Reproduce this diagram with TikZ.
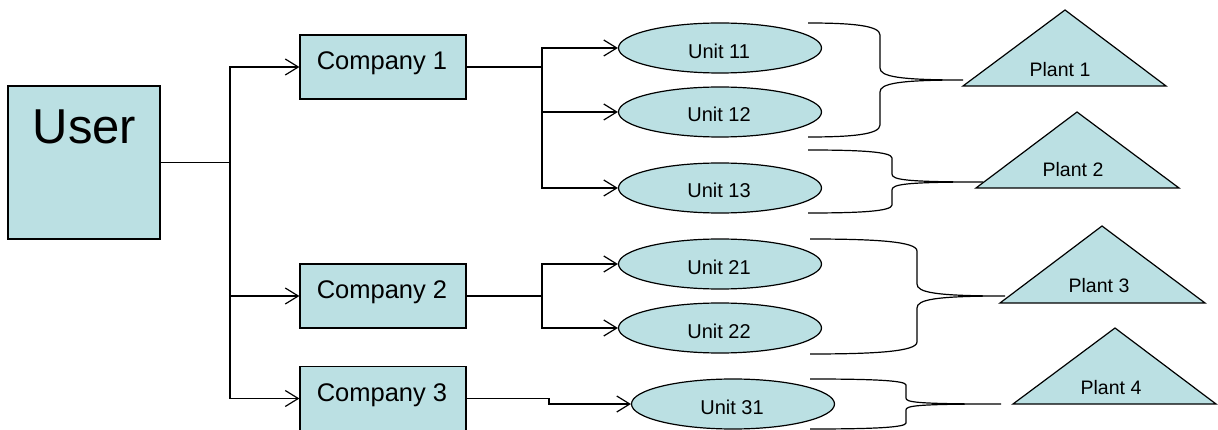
\documentclass[tikz,border=0pt]{standalone}
\usepackage{fontspec}
\setmainfont{Liberation Sans}
\usetikzlibrary{arrows.meta,shapes.geometric}
\definecolor{boxfill}{RGB}{187,224,227}

% curly brace: #1 arm start x, #2 spine x, #3 top y, #4 tip y, #5 bottom y, #6 tip x, #7 corner size
\newcommand\plantbrace[7]{%
  \draw (#1,#3) .. controls ({#1+0.6*(#2-#1)},#3) and (#2,{#3+0.2*#7}) .. (#2,{#3+#7})
    -- (#2,{#4-#7}) .. controls (#2,{#4-0.3*#7}) and ({#2+1.5*#7},#4) .. (#6,#4)
    .. controls ({#2+1.5*#7},#4) and (#2,{#4+0.3*#7}) .. (#2,{#4+#7})
    -- (#2,{#5-#7}) .. controls (#2,{#5-0.2*#7}) and ({#1+0.6*(#2-#1)},#5) .. (#1,#5);}

\begin{document}
\begin{tikzpicture}[x=1pt,y=-1pt,line width=1.2pt,
  boxshape/.style={draw,fill=boxfill,rectangle,inner sep=0pt},
  unitshape/.style={draw,fill=boxfill,ellipse,inner sep=0pt,minimum width=203pt,minimum height=50pt},
  plantshape/.style={draw,fill=boxfill,line join=miter},
  usertext/.style={font=\fontsize{49}{58}\selectfont,anchor=base,inner sep=0pt},
  comptext/.style={font=\fontsize{25.5}{30}\selectfont,anchor=base,inner sep=0pt},
  unittext/.style={font=\fontsize{20}{24}\selectfont,anchor=base,inner sep=0pt},
  planttext/.style={font=\fontsize{19.5}{23}\selectfont,anchor=base,inner sep=0pt},
  flow/.style={-{Straight Barb[length=13pt,width=16pt]}},
]
\useasboundingbox (0,0) rectangle (1218,430);

% user
\node[boxshape,minimum width=152pt,minimum height=153pt] (user) at (84,162.5) {};
\node[usertext] (usert) at (84.5,144) {User};

% companies
\node[boxshape,minimum width=166pt,minimum height=64pt] (c1) at (383,67) {};
\node[comptext] (c1t) at (382,69.5) {Company 1};
\node[boxshape,minimum width=166pt,minimum height=64pt] (c2) at (383,296) {};
\node[comptext] (c2t) at (382,298.5) {Company 2};
\node[boxshape,minimum width=166pt,minimum height=64pt] (c3) at (383,398.5) {};
\node[comptext] (c3t) at (382,401) {Company 3};

% units
\node[unitshape] (u11) at (720,48) {};
\node[unittext] (u11t) at (719,58.3) {Unit 11};
\node[unitshape] (u12) at (720,112) {};
\node[unittext] (u12t) at (719,121.7) {Unit 12};
\node[unitshape] (u13) at (720,188) {};
\node[unittext] (u13t) at (719,198) {Unit 13};
\node[unitshape] (u21) at (720,264) {};
\node[unittext] (u21t) at (719,275) {Unit 21};
\node[unitshape] (u22) at (720,328) {};
\node[unittext] (u22t) at (719,338) {Unit 22};
\node[unitshape] (u31) at (733,404) {};
\node[unittext] (u31t) at (732,414) {Unit 31};

% plants
\draw[plantshape] (963,86) -- (1065,10) -- (1166,86) -- cycle;
\node[planttext] (p1t) at (1060,77) {Plant 1};
\draw[plantshape] (976,188) -- (1077,112) -- (1179,188) -- cycle;
\node[planttext] (p2t) at (1073,177) {Plant 2};
\draw[plantshape] (1000,303) -- (1102,226) -- (1205,303) -- cycle;
\node[planttext] (p3t) at (1099,292.7) {Plant 3};
\draw[plantshape] (1013,404) -- (1115,328) -- (1216,404) -- cycle;
\node[planttext] (p4t) at (1111,394) {Plant 4};

% user to companies
\coordinate (j0) at (230,162.5);
\draw (user.east) -- (j0);
\draw[flow] (j0) |- (c1.west);
\draw[flow] (j0) |- (c2.west);
\draw[flow] (j0) |- (c3.west);

% company 1 to its units
\coordinate (j1) at (542,67);
\draw (c1.east) -- (j1);
\draw[flow] (j1) |- (u11.west);
\draw[flow] (j1) |- (u12.west);
\draw[flow] (j1) |- (u13.west);

% company 2 to its units
\coordinate (j2) at (542,296);
\draw (c2.east) -- (j2);
\draw[flow] (j2) |- (u21.west);
\draw[flow] (j2) |- (u22.west);

% company 3 to its unit
\coordinate (j3) at (549,398.5);
\draw[flow] (c3.east) -- (j3) |- (u31.west);

% braces grouping units into plants
\plantbrace{808}{880}{23}{80}{137}{963}{12}
\plantbrace{808}{892}{150}{182}{213}{983}{8}
\plantbrace{810}{917}{239}{296}{354}{1005}{12}
\plantbrace{810}{906}{379}{404}{429}{1001}{6}
\end{tikzpicture}
\end{document}
